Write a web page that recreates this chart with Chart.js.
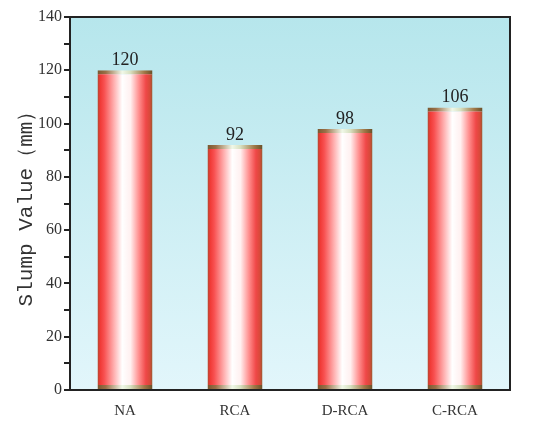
<!DOCTYPE html>
<html>
<head>
  <meta charset="UTF-8">
  <script src="https://cdn.jsdelivr.net/npm/chart.js"></script>
  <style>
    html, body { margin: 0; padding: 0; background: #fff; }
    #wrap { width: 550px; height: 427px; }
  </style>
</head>
<body>
<div id="wrap"><canvas id="slump"></canvas></div>
<script>
const categories = ["NA", "RCA", "D-RCA", "C-RCA"];
const slumpValues = [120, 92, 98, 106];
const yTicks = [0, 20, 40, 60, 80, 100, 120, 140];

function barGradient(ctx, chart, i, stops) {
  const area = chart.chartArea;
  if (!area) return stops[0][1];
  const x = chart.scales.x.getPixelForValue(i);
  const w = (area.right - area.left) / categories.length * 0.5;
  const g = ctx.createLinearGradient(x - w / 2, 0, x + w / 2, 0);
  stops.forEach(s => g.addColorStop(s[0], s[1]));
  return g;
}

const fillStops = [
  [0, '#b04a30'], [0.05, '#f03a36'], [0.12, '#f85050'], [0.3, '#ffb0b0'],
  [0.45, '#ffffff'], [0.6, '#fff0f0'], [0.75, '#ff9090'], [0.88, '#f04848'],
  [0.95, '#d84a3a'], [1, '#9a5a30']
];
const capStops = [
  [0, '#7a5830'], [0.15, '#9a7048'], [0.45, '#f0f8e8'], [0.6, '#d8e0c0'],
  [0.85, '#a07848'], [1, '#6a5028']
];

const bgPlugin = {
  id: 'bg',
  beforeDatasetsDraw(chart) {
    const { ctx, chartArea: a } = chart;
    const g = ctx.createLinearGradient(0, a.top, 0, a.bottom);
    g.addColorStop(0, '#b6e6ec');
    g.addColorStop(1, '#e2f6fb');
    ctx.save();
    ctx.fillStyle = g;
    ctx.fillRect(a.left, a.top, a.right - a.left, a.bottom - a.top);
    ctx.restore();
  },
  afterDraw(chart) {
    const { ctx, chartArea: a } = chart;
    ctx.save();
    ctx.strokeStyle = '#222';
    ctx.lineWidth = 2;
    ctx.strokeRect(a.left, a.top, a.right - a.left, a.bottom - a.top);
    ctx.restore();
  }
};

const labelPlugin = {
  id: 'valueLabels',
  afterDatasetsDraw(chart) {
    const ctx = chart.ctx;
    const meta = chart.getDatasetMeta(0);
    ctx.save();
    ctx.font = '18px "Liberation Serif"';
    ctx.fillStyle = '#222';
    ctx.textAlign = 'center';
    ctx.textBaseline = 'bottom';
    meta.data.forEach((bar, i) => {
      ctx.fillText(slumpValues[i], bar.x, bar.y - 1);
    });
    ctx.restore();
  }
};

new Chart(document.getElementById('slump'), {
  type: 'bar',
  data: {
    labels: categories,
    datasets: [{
      data: slumpValues,
      backgroundColor: c => barGradient(c.chart.ctx, c.chart, c.dataIndex, fillStops),
      borderColor: c => barGradient(c.chart.ctx, c.chart, c.dataIndex, capStops),
      borderWidth: { top: 4, bottom: 4, left: 0, right: 0 },
      borderSkipped: false,
      barPercentage: 0.5,
      categoryPercentage: 1
    }]
  },
  options: {
    responsive: true,
    maintainAspectRatio: false,
    animation: false,
    layout: { padding: { top: 17, right: 40, left: 14, bottom: 0 } },
    plugins: { legend: { display: false }, tooltip: { enabled: false } },
    scales: {
      x: {
        grid: { display: false },
        border: { color: '#222', width: 2 },
        ticks: { color: '#333', font: { family: 'Liberation Serif', size: 15 }, padding: 4 },
        afterFit(s) { s.height = 37; }
      },
      y: {
        min: 0,
        max: 140,
        afterBuildTicks(s) {
          s.ticks = [];
          for (let v = 0; v <= 140; v += 10) s.ticks.push({ value: v });
        },
        grid: { drawOnChartArea: false, tickLength: 6, color: '#222', lineWidth: 2 },
        border: { color: '#222', width: 2 },
        ticks: {
          color: '#333',
          font: { family: 'Liberation Serif', size: 16 },
          padding: 2,
          callback: v => yTicks.includes(v) ? v : ''
        },
        title: {
          display: true,
          text: 'Slump Value（mm）',
          color: '#333',
          font: { family: 'Liberation Mono', size: 21 },
          padding: { top: 0, bottom: 0 }
        },
        afterFit(s) { s.width = 56; }
      }
    }
  },
  plugins: [bgPlugin, labelPlugin]
});
</script>
</body>
</html>
